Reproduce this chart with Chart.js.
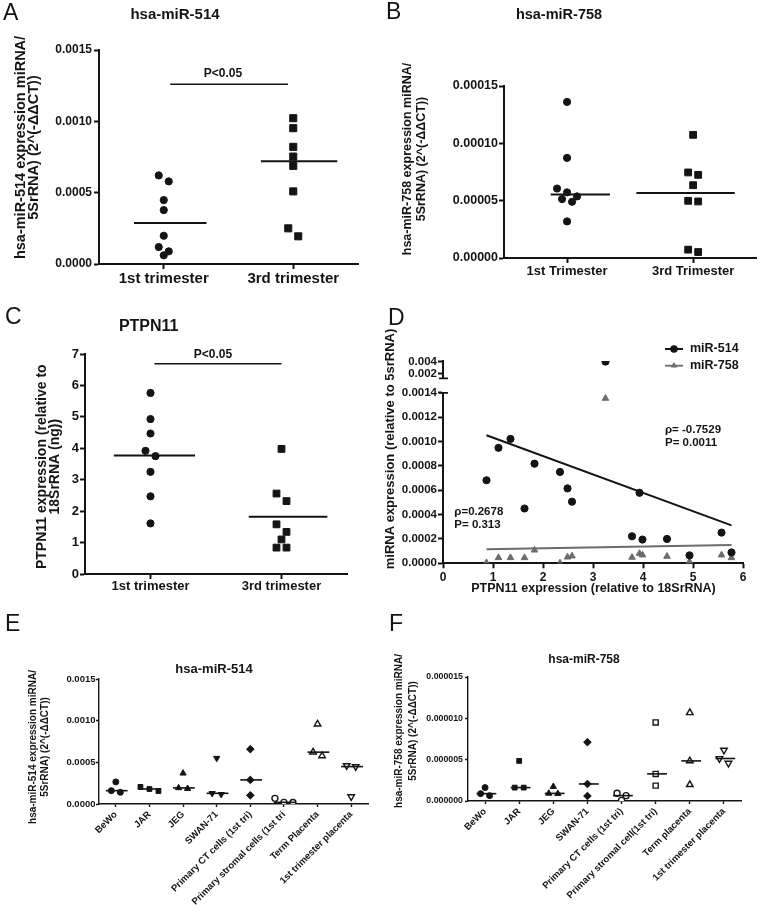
<!DOCTYPE html>
<html><head><meta charset="utf-8"><title>miR-514 / miR-758 / PTPN11</title>
<script src="https://cdn.jsdelivr.net/npm/chart.js@4.4.1/dist/chart.umd.min.js"></script>
<style>
html,body{margin:0;padding:0;background:#fff;}
#page{position:relative;width:762px;height:909px;overflow:hidden;background:#fff;}
canvas{position:absolute;}
</style></head><body>
<div id="page">
<canvas id="cA" width="381" height="300" style="left:0;top:0"></canvas>
<canvas id="cB" width="381" height="300" style="left:381px;top:0"></canvas>
<canvas id="cC" width="381" height="300" style="left:0;top:300px"></canvas>
<canvas id="cD" width="381" height="300" style="left:381px;top:300px"></canvas>
<canvas id="cE" width="381" height="309" style="left:0;top:600px"></canvas>
<canvas id="cF" width="381" height="309" style="left:381px;top:600px"></canvas>
</div>
<script>
// ---------------- DATA ----------------
const trimesterCats = ['1st trimester', '3rd trimester'];
const trimesterCatsB = ['1st Trimester', '3rd Trimester'];

// A: hsa-miR-514
const miR514_1st = [0.000621, 0.000579, 0.000448, 0.000378, 0.000198, 0.000119, 0.0000607, 0.0000886];
const miR514_3rd = [0.001022, 0.000952, 0.000821, 0.000753, 0.000688, 0.000509, 0.000250, 0.000194];
const yTicksA = ['0.0000', '0.0005', '0.0010', '0.0015'];

// B: hsa-miR-758
const miR758_1st = [0.0001361, 0.0000873, 0.0000606, 0.0000572, 0.0000514, 0.0000490, 0.0000537, 0.0000319];
const miR758_3rd = [0.0001074, 0.0000746, 0.0000725, 0.0000635, 0.0000499, 0.0000493, 0.0000073, 0.0000052];
const yTicksB = ['0.00000', '0.00005', '0.00010', '0.00015'];

// C: PTPN11
const ptpn_1st = [5.76, 4.93, 4.47, 3.92, 3.75, 3.25, 2.47, 1.61];
const ptpn_3rd = [3.98, 2.56, 2.32, 1.58, 1.34, 1.10, 0.84, 0.84];
const yTicksC = ['0', '1', '2', '3', '4', '5', '6', '7'];

// D: correlation
const ptpnX   = [0.87, 1.11, 1.35, 1.63, 1.83, 2.34, 2.49, 2.58, 3.25, 3.78, 3.93, 3.99, 4.48, 4.93, 5.57, 5.77];
const corr514 = [0.000682, 0.000948, 0.001021, 0.000450, 0.000818, 0.000750, 0.000615, 0.000506, 0.0040, 0.000222, 0.000579, 0.000195, 0.000200, 0.000065, 0.000252, 0.000089];
const corr758 = [0.000005, 0.000046, 0.000046, 0.000046, 0.000108, 0.000003, 0.000051, 0.000060, 0.001354, 0.000049, 0.000081, 0.000068, 0.000057, 0.000014, 0.000068, 0.000046];
const xTicksD = ['0', '1', '2', '3', '4', '5', '6'];
const yTicksDLow = ['0.0000', '0.0002', '0.0004', '0.0006', '0.0008', '0.0010', '0.0012', '0.0014'];
const yTicksDHigh = ['0.002', '0.004'];
const seriesD = ['miR-514', 'miR-758'];
const statsD514 = ['\u03c1= -0.7529', 'P= 0.0011'];
const statsD758 = ['\u03c1=0.2678', 'P= 0.313'];

// E: hsa-miR-514 in cells
const cellCatsE = ['BeWo', 'JAR', 'JEG', 'SWAN-71', 'Primary CT cells (1st tri)', 'Primary stromal cells (1st tri', 'Term Placenta', '1st trimester placenta'];
const cellValsE = [
  [0.000265, 0.000160, 0.000140],
  [0.000205, 0.000180, 0.000156],
  [0.000369, 0.000193, 0.000185],
  [0.000550, 0.000128, 0.000116],
  [0.000658, 0.000289, 0.000104],
  [0.000068, 0.000020, 0.000018],
  [0.000959, 0.000622, 0.000578],
  [0.000461, 0.000449, 0.000088]
];
const yTicksE = ['0.0000', '0.0005', '0.0010', '0.0015'];

// F: hsa-miR-758 in cells
const cellCatsF = ['BeWo', 'JAR', 'JEG', 'SWAN-71', 'Primary CT cells (1st tri)', 'Primary stromal cell(1st tri)', 'Term placenta', '1st trimester placenta'];
const cellValsF = [
  [0.00000162, 0.00000089, 0.00000065],
  [0.00000485, 0.00000162, 0.00000162],
  [0.00000174, 0.00000092, 0.00000089],
  [0.00000712, 0.00000206, 0.00000061],
  [0.00000093, 0.00000065, 0.00000008],
  [0.00000950, 0.00000328, 0.00000186],
  [0.00001068, 0.00000485, 0.00000198],
  [0.00000615, 0.00000514, 0.00000457]
];
const yTicksF = ['0.000000', '0.000005', '0.000010', '0.000015'];

// ---------------- STYLE / HELPERS ----------------
const FONT = "'Liberation Sans', Arial, Helvetica, sans-serif";
const INK = '#141414';
const GRAY = '#6c6c6c';
Chart.defaults.font.family = FONT;
Chart.defaults.color = INK;
const ROT = -Math.PI / 2;

function centre(vals, kind) {
  if (kind === 'mean') return vals.reduce((a, b) => a + b, 0) / vals.length;
  const s = [...vals].sort((a, b) => a - b), n = s.length;
  return n % 2 ? s[(n - 1) / 2] : (s[n / 2 - 1] + s[n / 2]) / 2;
}

function fitLine(xs, ys) {
  const n = xs.length;
  const mx = xs.reduce((a, b) => a + b, 0) / n, my = ys.reduce((a, b) => a + b, 0) / n;
  let sxy = 0, sxx = 0;
  for (let i = 0; i < n; i++) { sxy += (xs[i] - mx) * (ys[i] - my); sxx += (xs[i] - mx) ** 2; }
  const b = sxy / sxx, a = my - b * mx;
  const x0 = Math.min(...xs), x1 = Math.max(...xs);
  return [{ x: x0, y: a + b * x0 }, { x: x1, y: a + b * x1 }];
}

// column-scatter spreading of overlapping points (pixel space, after the scales placed them)
const swarmPlugin = {
  id: 'swarm',
  afterDatasetsUpdate(chart) {
    chart.data.datasets.forEach((ds, i) => {
      if (!ds.swarm) return;
      const els = chart.getDatasetMeta(i).data.slice().sort((a, b) => a.y - b.y);
      const rows = [];
      els.forEach(e => {
        const row = rows[rows.length - 1];
        if (row && e.y - row[0].y < ds.swarm.thr) row.push(e); else rows.push([e]);
      });
      rows.forEach(row => row.forEach((e, k) => { e.x += (k - (row.length - 1) / 2) * ds.swarm.step; }));
    });
  }
};

function textLayer(items, extra) {
  return {
    id: 'textLayer',
    afterDraw(chart) {
      const ctx = chart.ctx;
      items.forEach(it => {
        ctx.save();
        ctx.font = (it.bold ? 'bold ' : '') + it.size + 'px ' + FONT;
        ctx.fillStyle = it.color || INK;
        ctx.textAlign = it.align || 'center';
        ctx.textBaseline = 'middle';
        ctx.translate(it.x, it.y);
        if (it.rot) ctx.rotate(it.rot);
        ctx.fillText(it.text, 0, 0);
        ctx.restore();
      });
      if (extra) extra(chart, ctx);
    }
  };
}

function tickGrid(p) {
  return {
    grid: { display: true, drawOnChartArea: false, drawTicks: true, tickLength: p.tl, tickColor: INK, tickWidth: p.lw },
    border: { display: true, color: INK, width: p.lw }
  };
}

function valueAxis(labels, p, extra) {
  const vals = labels.map(Number);
  return Object.assign({
    type: 'linear', position: 'left', axis: 'y',
    min: vals[0], max: vals[vals.length - 1],
    afterBuildTicks: s => { s.ticks = vals.map(v => ({ value: v })); },
    afterFit: s => { s.width = p.yWidth; },
    ticks: { autoSkip: false, padding: p.yPad, color: INK, font: { size: p.yFont, weight: 'bold' }, callback: (v, i) => labels[i] }
  }, tickGrid(p), extra || {});
}

function catAxis(cats, p) {
  return Object.assign({
    type: 'linear', position: 'bottom', axis: 'x',
    min: 0.5, max: cats.length + 0.5,
    afterBuildTicks: s => { s.ticks = cats.map((c, i) => ({ value: i + 1 })); },
    afterFit: s => { s.height = p.xHeight; },
    ticks: { autoSkip: false, padding: p.xPad, color: INK, font: { size: p.xFont, weight: 'bold' },
             maxRotation: p.rot || 0, minRotation: p.rot || 0, callback: (v, i) => cats[i] }
  }, tickGrid(p));
}

function dotPanel(id, p) {
  const datasets = [];
  p.groups.forEach((vals, gi) => {
    const m = p.markers[gi];
    datasets.push({
      data: vals.map(v => ({ x: gi + 1, y: v })),
      pointStyle: m.style, pointRotation: m.rot || 0, pointRadius: m.r,
      pointBackgroundColor: m.open ? '#ffffff' : INK, pointBorderColor: INK,
      pointBorderWidth: m.open ? 1.4 : 1,
      showLine: false, order: 1, swarm: p.swarm
    });
    const c = centre(vals, p.stat);
    const sp = p.spans[gi] || p.spans[0];
    datasets.push({
      data: [{ x: gi + 1 + sp[0], y: c }, { x: gi + 1 + sp[1], y: c }],
      showLine: true, pointRadius: 0, borderColor: INK, borderWidth: p.medW, order: 0
    });
  });
  if (p.sig) {
    datasets.push({
      data: [{ x: p.sig.x0, y: p.sig.y }, { x: p.sig.x1, y: p.sig.y }],
      showLine: true, pointRadius: 0, borderColor: INK, borderWidth: 1.6, order: 0
    });
  }
  new Chart(document.getElementById(id), {
    type: 'scatter',
    data: { datasets },
    options: {
      responsive: false, animation: false, events: [],
      layout: { padding: { left: 0, top: p.top, right: p.right, bottom: 0 } },
      plugins: { legend: { display: false }, tooltip: { enabled: false } },
      scales: { x: catAxis(p.cats, p), y: valueAxis(p.yLabels, p) }
    },
    plugins: [swarmPlugin, textLayer(p.texts)]
  });
}

// ---------------- PANEL A ----------------
dotPanel('cA', {
  cats: trimesterCats, groups: [miR514_1st, miR514_3rd],
  markers: [{ style: 'circle', r: 3.6 }, { style: 'rect', r: 5 }],
  stat: 'median', spans: [[-0.23, 0.33], [-0.25, 0.34]],
  yLabels: yTicksA, yFont: 12, xFont: 15, top: 50, right: 23, yWidth: 99, xHeight: 36,
  tl: 5, yPad: 2, xPad: 1, lw: 2, medW: 2, swarm: { step: 10, thr: 8 },
  sig: { x0: 1.05, x1: 1.96, y: 0.00126 },
  texts: [
    { text: 'A', x: 3, y: 14, size: 23, align: 'left' },
    { text: 'hsa-miR-514', x: 175, y: 15, size: 15, bold: true },
    { text: 'hsa-miR-514 expression miRNA/', x: 20.7, y: 147.5, size: 14.5, bold: true, rot: ROT },
    { text: '5SrRNA) (2^(-\u0394\u0394CT))', x: 34, y: 147.5, size: 14.5, bold: true, rot: ROT },
    { text: 'P<0.05', x: 223, y: 74, size: 12, bold: true }
  ]
});

// ---------------- PANEL B ----------------
dotPanel('cB', {
  cats: trimesterCatsB, groups: [miR758_1st, miR758_3rd],
  markers: [{ style: 'circle', r: 3.6 }, { style: 'rect', r: 4.8 }],
  stat: 'median', spans: [[-0.13, 0.34], [-0.45, 0.33]],
  yLabels: yTicksB, yFont: 12.5, xFont: 13, top: 86, right: 1, yWidth: 123, xHeight: 42,
  tl: 5, yPad: 1, xPad: 1, lw: 2, medW: 2, swarm: { step: 10, thr: 8 },
  texts: [
    { text: 'B', x: 5, y: 13, size: 23, align: 'left' },
    { text: 'hsa-miR-758', x: 178, y: 15.3, size: 14.5, bold: true },
    { text: 'hsa-miR-758 expression miRNA/', x: 27, y: 159, size: 12.5, bold: true, rot: ROT },
    { text: '5SrRNA) (2^(-\u0394\u0394CT))', x: 41, y: 159, size: 12.5, bold: true, rot: ROT }
  ]
});

// ---------------- PANEL C ----------------
dotPanel('cC', {
  cats: trimesterCats, groups: [ptpn_1st, ptpn_3rd],
  markers: [{ style: 'circle', r: 3.6 }, { style: 'rect', r: 4.8 }],
  stat: 'mean', spans: [[-0.28, 0.34], [-0.25, 0.35]],
  yLabels: yTicksC, yFont: 13, xFont: 13, top: 54, right: 34, yWidth: 85, xHeight: 26,
  tl: 5, yPad: 1, xPad: 0, lw: 2, medW: 2, swarm: { step: 10, thr: 8 },
  sig: { x0: 1.03, x1: 2.0, y: 6.69 },
  texts: [
    { text: 'C', x: 5, y: 17.5, size: 23, align: 'left' },
    { text: 'PTPN11', x: 148.7, y: 27, size: 16, bold: true },
    { text: 'P<0.05', x: 213, y: 55, size: 12, bold: true },
    { text: 'PTPN11 expression (relative to', x: 41.7, y: 166.7, size: 14, bold: true, rot: ROT },
    { text: '18SrRNA (ng))', x: 55, y: 166.7, size: 14, bold: true, rot: ROT }
  ]
});

// ---------------- PANEL D ----------------
(function () {
  const p = { tl: 5, lw: 2, yWidth: 62, yPad: 1, yFont: 11.5 };
  const lowMax = Number(yTicksDLow[yTicksDLow.length - 1]);
  const pts514 = ptpnX.map((x, i) => ({ x, y: corr514[i] }));
  const pts758 = ptpnX.map((x, i) => ({ x, y: corr758[i] }));
  const xVals = xTicksD.map(Number);
  const ptA = { pointStyle: 'circle', pointRadius: 3.6, pointBackgroundColor: INK, pointBorderColor: INK, showLine: false, order: 0 };
  const ptB = { pointStyle: 'triangle', pointRadius: 3.8, pointBackgroundColor: GRAY, pointBorderColor: GRAY, showLine: false, order: 1 };
  const datasets = [
    Object.assign({ label: seriesD[0], data: pts514.filter(q => q.y <= lowMax), yAxisID: 'yLow' }, ptA),
    Object.assign({ label: seriesD[0], data: pts514.filter(q => q.y > lowMax), yAxisID: 'yHigh' }, ptA),
    Object.assign({ label: seriesD[1], data: pts758.filter(q => q.y <= lowMax), yAxisID: 'yLow' }, ptB),
    Object.assign({ label: seriesD[1], data: pts758.filter(q => q.y > lowMax), yAxisID: 'yHigh' }, ptB),
    { data: fitLine(ptpnX, corr514), yAxisID: 'yLow', showLine: true, pointRadius: 0, borderColor: INK, borderWidth: 2, order: 2 },
    { data: fitLine(ptpnX, corr758), yAxisID: 'yLow', showLine: true, pointRadius: 0, borderColor: GRAY, borderWidth: 1.8, order: 2 }
  ];

  function drawMarker(ctx, style, x, y, r, color) {
    ctx.fillStyle = color;
    ctx.beginPath();
    if (style === 'circle') ctx.arc(x, y, r, 0, Math.PI * 2);
    else {
      for (let k = 0; k < 3; k++) {
        const a = k * 2 * Math.PI / 3;
        const px = x + Math.sin(a) * r, py = y - Math.cos(a) * r;
        if (k) ctx.lineTo(px, py); else ctx.moveTo(px, py);
      }
      ctx.closePath();
    }
    ctx.fill();
  }

  const extra = (chart, ctx) => {
    // axis-break caps
    const lo = chart.scales.yLow, hi = chart.scales.yHigh, ax = chart.chartArea.left;
    ctx.save();
    ctx.strokeStyle = INK; ctx.lineWidth = 1.8;
    ctx.beginPath();
    ctx.moveTo(ax - 4, hi.bottom); ctx.lineTo(ax + 5, hi.bottom);
    ctx.moveTo(ax - 4, lo.top); ctx.lineTo(ax + 5, lo.top);
    ctx.stroke();
    // legend
    const rows = [{ c: INK, s: 'circle', y: 49, w: 2 }, { c: GRAY, s: 'triangle', y: 65.7, w: 1.8 }];
    rows.forEach((r, i) => {
      ctx.strokeStyle = r.c; ctx.lineWidth = r.w;
      ctx.beginPath(); ctx.moveTo(284, r.y); ctx.lineTo(302, r.y); ctx.stroke();
      drawMarker(ctx, r.s, 293, r.y, 3.8, r.c);
      ctx.fillStyle = INK; ctx.font = 'bold 12.5px ' + FONT;
      ctx.textAlign = 'left'; ctx.textBaseline = 'middle';
      ctx.fillText(seriesD[i], 309, r.y);
    });
    ctx.restore();
  };

  new Chart(document.getElementById('cD'), {
    type: 'scatter',
    data: { datasets },
    options: {
      responsive: false, animation: false, events: [],
      layout: { padding: { left: 0, top: 61, right: 19, bottom: 0 } },
      plugins: { legend: { display: false }, tooltip: { enabled: false } },
      scales: {
        x: Object.assign({
          type: 'linear', position: 'bottom', axis: 'x',
          min: xVals[0], max: xVals[xVals.length - 1],
          afterBuildTicks: s => { s.ticks = xVals.map(v => ({ value: v })); },
          afterFit: s => { s.height = 36.7; },
          ticks: { autoSkip: false, padding: 2, color: INK, font: { size: 12, weight: 'bold' }, callback: (v, i) => xTicksD[i] }
        }, tickGrid(p)),
        yLow: valueAxis(yTicksDLow, p, { stack: 'brk', stackWeight: 170.6, weight: 1 }),
        yGap: { type: 'linear', axis: 'y', position: 'left', display: false, stack: 'brk', stackWeight: 14.4, weight: 2, min: 0, max: 1 },
        yHigh: valueAxis(yTicksDHigh, p, { stack: 'brk', stackWeight: 17.4, weight: 3, min: 0.0012, max: 0.0041 })
      }
    },
    plugins: [textLayer([
      { text: 'D', x: 7, y: 18.5, size: 23, align: 'left' },
      { text: 'miRNA expression (relative to 5srRNA)', x: 9, y: 149, size: 13, bold: true, rot: ROT },
      { text: 'PTPN11 expression (relative to 18SrRNA)', x: 212.5, y: 288.8, size: 12.5, bold: true },
      { text: statsD514[0], x: 284, y: 130, size: 11.5, bold: true, align: 'left' },
      { text: statsD514[1], x: 284, y: 143, size: 11.5, bold: true, align: 'left' },
      { text: statsD758[0], x: 73.3, y: 212, size: 11.5, bold: true, align: 'left' },
      { text: statsD758[1], x: 73.3, y: 225, size: 11.5, bold: true, align: 'left' }
    ], extra)]
  });
})();

// ---------------- PANEL E ----------------
dotPanel('cE', {
  cats: cellCatsE, groups: cellValsE,
  markers: [
    { style: 'circle', r: 3 }, { style: 'rect', r: 3.4 }, { style: 'triangle', r: 3.6 },
    { style: 'triangle', rot: 180, r: 3.6 }, { style: 'rectRot', r: 3.8 },
    { style: 'circle', r: 3, open: true }, { style: 'triangle', r: 3.8, open: true },
    { style: 'triangle', rot: 180, r: 3.8, open: true }
  ],
  stat: 'median', spans: [[-0.3, 0.35]],
  yLabels: yTicksE, yFont: 9.5, xFont: 9.5, rot: 45, top: 79, right: 13, yWidth: 99, xHeight: 105,
  tl: 3, yPad: 0.5, xPad: 2, lw: 1.4, medW: 1.6, swarm: { step: 9, thr: 6 },
  texts: [
    { text: 'E', x: 5, y: 25, size: 23, align: 'left' },
    { text: 'hsa-miR-514', x: 214, y: 69.4, size: 13, bold: true },
    { text: 'hsa-miR-514 expression miRNA/', x: 33, y: 147, size: 10, bold: true, rot: ROT },
    { text: '5SrRNA) (2^(-\u0394\u0394CT))', x: 45, y: 147, size: 10, bold: true, rot: ROT }
  ]
});

// ---------------- PANEL F ----------------
dotPanel('cF', {
  cats: cellCatsF, groups: cellValsF,
  markers: [
    { style: 'circle', r: 3 }, { style: 'rect', r: 3.4 }, { style: 'triangle', r: 3.6 },
    { style: 'rectRot', r: 3.8 }, { style: 'circle', r: 3, open: true },
    { style: 'rect', r: 3.6, open: true }, { style: 'triangle', r: 3.8, open: true },
    { style: 'triangle', rot: 180, r: 3.8, open: true }
  ],
  stat: 'median', spans: [[-0.25, 0.33]],
  yLabels: yTicksF, yFont: 8.8, xFont: 9.5, rot: 45, top: 77, right: 21, yWidth: 87, xHeight: 108,
  tl: 3, yPad: 2, xPad: 2, lw: 1.4, medW: 1.6, swarm: { step: 9, thr: 6 },
  texts: [
    { text: 'F', x: 8, y: 25, size: 23, align: 'left' },
    { text: 'hsa-miR-758', x: 203, y: 60, size: 12, bold: true },
    { text: 'hsa-miR-758 expression miRNA/', x: 18, y: 131, size: 10, bold: true, rot: ROT },
    { text: '5SrRNA) (2^(-\u0394\u0394CT))', x: 32, y: 131, size: 10, bold: true, rot: ROT }
  ]
});
</script>
</body></html>
